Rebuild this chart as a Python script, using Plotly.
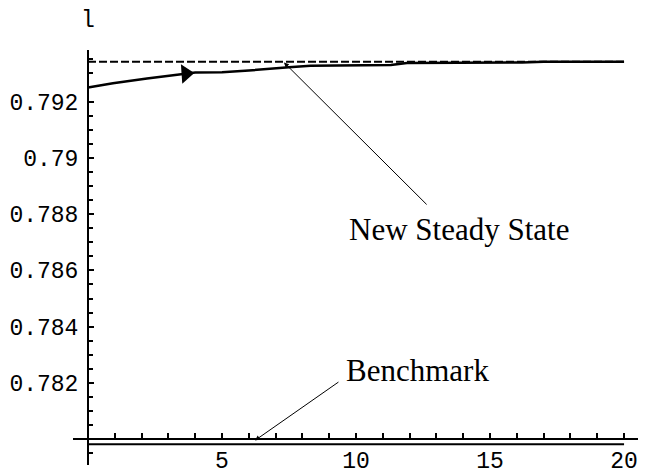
import plotly.graph_objects as go

# ---- data ----
t_path = [0, 0.93, 2.2, 3.3, 4.0, 5.0, 6.0, 7.5, 8.3, 11.3, 11.9, 16.2, 17, 20]
l_path = [0.79250, 0.79265, 0.79282, 0.79294, 0.79303, 0.79304, 0.79310,
          0.79322, 0.79327, 0.79330, 0.79337, 0.79339, 0.79341, 0.79341]
t_span = [0, 20]
steady_state = [0.79341, 0.79341]
benchmark = [0.77982, 0.77982]
arrow_t = [3.65]
arrow_l = [0.79299]

y_tickvals = [0.782, 0.784, 0.786, 0.788, 0.790, 0.792]
y_ticktext = ["0.782", "0.784", "0.786", "0.788", "0.79", "0.792"]
x_tickvals = [5, 10, 15, 20]
x_ticktext = ["5", "10", "15", "20"]

x_range = [-0.56, 20.52]
y_range = [0.779087, 0.79383]

mono = "Liberation Mono"
serif = "Liberation Serif"

fig = go.Figure()
fig.add_trace(go.Scatter(x=t_span, y=benchmark, mode="lines",
                         line=dict(color="black", width=2), hoverinfo="skip"))
fig.add_trace(go.Scatter(x=t_span, y=steady_state, mode="lines",
                         line=dict(color="black", width=2, dash="8px,3px"), hoverinfo="skip"))
fig.add_trace(go.Scatter(x=t_path, y=l_path, mode="lines",
                         line=dict(color="black", width=2.5), hoverinfo="skip"))
fig.add_trace(go.Scatter(x=arrow_t, y=arrow_l, mode="markers",
                         marker=dict(symbol="triangle-right", size=17, color="black", angle=-4),
                         hoverinfo="skip"))

xpos = (0 - x_range[0]) / (x_range[1] - x_range[0])
ypos = (0.78 - y_range[0]) / (y_range[1] - y_range[0])

# the page body adds an 8px offset, so the figure is 8px smaller on each axis
fig.update_layout(
    width=660, height=468,
    margin=dict(l=65, r=30, t=42, b=11, autoexpand=False),
    paper_bgcolor="white", plot_bgcolor="white",
    showlegend=False,
    xaxis=dict(range=x_range, domain=[0, 1], anchor="free", position=ypos, automargin=False,
               showgrid=False, zeroline=False, showline=True, linecolor="black", linewidth=2,
               ticks="inside", ticklen=5, tickwidth=2, tickcolor="black",
               tickvals=x_tickvals, ticktext=x_ticktext,
               minor=dict(ticks="inside", dtick=1, tick0=0, ticklen=5, tickwidth=2, tickcolor="black"),
               tickfont=dict(family=mono, size=23, color="black"),
               ticklabelstandoff=0),
    yaxis=dict(range=y_range, domain=[0, 1], anchor="free", position=xpos, automargin=False,
               showgrid=False, zeroline=False, showline=True, linecolor="black", linewidth=2,
               ticks="inside", ticklen=5, tickwidth=2, tickcolor="black",
               tickvals=y_tickvals, ticktext=y_ticktext,
               minor=dict(ticks="inside", dtick=0.0005, tick0=0.78, ticklen=4, tickwidth=2, tickcolor="black"),
               tickfont=dict(family=mono, size=23, color="black"),
               ticklabelstandoff=4),
)

fig.add_annotation(x=0, y=1 + 44 / 415, xref="x", yref="paper", text="l", showarrow=False,
                   font=dict(family=mono, size=23, color="black"))
fig.add_annotation(x=21.16, y=0.78, xref="x", yref="y", text="t", showarrow=False,
                   font=dict(family=mono, size=23, color="black"))

# New Steady State
fig.add_annotation(x=7.31, y=0.79339, ax=12.69, ay=0.78829, xref="x", yref="y",
                   axref="x", ayref="y", text="", showarrow=True,
                   arrowhead=2, arrowsize=1, arrowwidth=1, arrowcolor="black")
fig.add_annotation(x=13.84, y=0.78747, xref="x", yref="y", text="New Steady State",
                   showarrow=False, font=dict(family=serif, size=31, color="black"))
# Benchmark
fig.add_annotation(x=6.23, y=0.77996, ax=9.40, ay=0.78207, xref="x", yref="y",
                   axref="x", ayref="y", text="", showarrow=True,
                   arrowhead=2, arrowsize=1, arrowwidth=1, arrowcolor="black")
fig.add_annotation(x=12.28, y=0.78246, xref="x", yref="y", text="Benchmark",
                   showarrow=False, font=dict(family=serif, size=31, color="black"))

fig.write_html("out.html")
